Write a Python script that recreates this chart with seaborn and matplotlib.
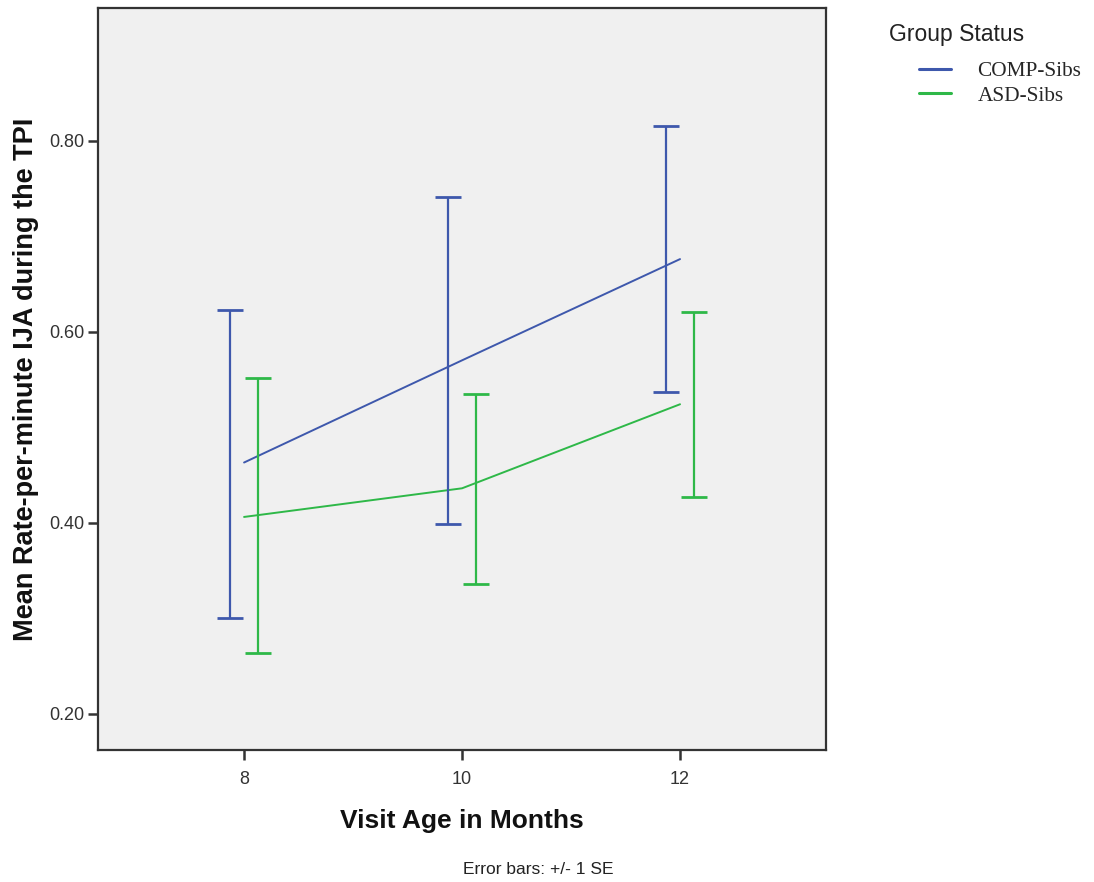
import numpy as np
import pandas as pd
import matplotlib
matplotlib.use("Agg")
import matplotlib.pyplot as plt
from matplotlib.lines import Line2D
import seaborn as sns

# values
ages = [8, 10, 12]
groups = ["COMP-Sibs", "ASD-Sibs"]
comp_mean = [0.463, 0.570, 0.676]
comp_lo = [0.300, 0.399, 0.537]
comp_hi = [0.623, 0.741, 0.815]
asd_mean = [0.406, 0.436, 0.524]
asd_lo = [0.264, 0.336, 0.427]
asd_hi = [0.551, 0.535, 0.621]

colors = {"COMP-Sibs": "#3E58AC", "ASD-Sibs": "#2EB848"}
dodge = {"COMP-Sibs": -0.125, "ASD-Sibs": 0.125}

df = pd.DataFrame({
    "age": ages * 2,
    "group": [groups[0]] * 3 + [groups[1]] * 3,
    "mean": comp_mean + asd_mean,
    "lo": comp_lo + asd_lo,
    "hi": comp_hi + asd_hi,
})

sns.set_style("white")
plt.rcParams["font.family"] = ["Liberation Sans", "DejaVu Sans"]

fig = plt.figure(figsize=(10.94, 8.82), dpi=100)
ax = fig.add_axes([0.0896, 0.1497, 0.6655, 0.8413])
ax.set_facecolor("#F0F0F0")

sns.lineplot(data=df, x="age", y="mean", hue="group", palette=colors,
             linewidth=1.4, legend=False, ax=ax)

for g in groups:
    sub = df[df["group"] == g]
    x = sub["age"].to_numpy() + dodge[g]
    m = sub["mean"].to_numpy()
    err = np.vstack([m - sub["lo"].to_numpy(), sub["hi"].to_numpy() - m])
    ax.errorbar(x, m, yerr=err, fmt="none", ecolor=colors[g],
                elinewidth=1.6, capsize=9.7, capthick=2.0)

ax.set_xlim(6.66, 13.34)
ax.set_ylim(0.162, 0.939)
ax.set_xticks(ages)
ax.set_yticks([0.2, 0.4, 0.6, 0.8])
ax.set_yticklabels(["0.20", "0.40", "0.60", "0.80"])
ax.tick_params(axis="both", bottom=True, left=True, direction="out", length=7,
               width=1.8, colors="#333333", labelsize=13, labelcolor="#333333")
ax.tick_params(axis="x", pad=8)
ax.tick_params(axis="y", pad=3)
for s in ax.spines.values():
    s.set_color("#333333")
    s.set_linewidth(1.6)

ax.set_xlabel("Visit Age in Months", fontsize=19, fontweight="bold", labelpad=15,
              color="#111111")
ax.set_ylabel("Mean Rate-per-minute IJA during the TPI", fontsize=19.5,
              fontweight="bold", labelpad=7, color="#111111")

fig.text(889 / 1094, 1 - 34 / 882, "Group Status", fontsize=16.5,
         color="#222222", va="center", ha="left")
handles = [Line2D([], [], color=colors[g], linewidth=2.2) for g in groups]
fig.legend(handles, groups, loc="upper left", bbox_to_anchor=(900 / 1094, 1 - 42 / 882),
           frameon=False, handlelength=1.5, handletextpad=1.25, labelspacing=0.22,
           prop={"family": "Liberation Serif", "size": 15.3})

fig.text(538 / 1094, 1 - 869 / 882, "Error bars: +/- 1 SE", fontsize=12.5,
         ha="center", va="center", color="#222222")

fig.savefig("out.png", dpi=100)
